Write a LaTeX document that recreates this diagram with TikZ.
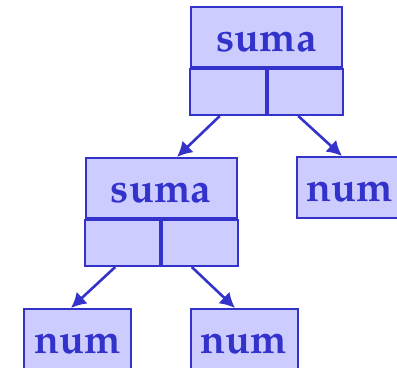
\documentclass[tikz,border=0pt]{standalone}
\usepackage[T1]{fontenc}
\usepackage{mathpazo}
\usepackage{tikz}
\usetikzlibrary{arrows.meta,positioning}
\definecolor{treeblue}{RGB}{51,51,204}
\definecolor{treefill}{RGB}{204,204,255}
\tikzstyle{box} = [rectangle, draw=treeblue, fill=treefill, line width=1pt, text=treeblue, font=\fontsize{20.5}{24}\selectfont\bfseries, inner sep=0pt]
\tikzstyle{head} = [box, minimum width=75.5pt, minimum height=30pt, text height=15pt, text depth=0pt]
\tikzstyle{cell} = [box, minimum width=37.75pt, minimum height=23pt]
\tikzstyle{leaf} = [box, minimum width=53.5pt, minimum height=30.5pt, text height=14.5pt, text depth=0pt]
\tikzstyle{arrow} = [line width=1.3pt, draw=treeblue, -{Latex[length=7.5pt,width=8pt]}]

\begin{document}
\begin{tikzpicture}
\useasboundingbox (0,0) rectangle (198.5pt,-184pt);

% Place the nodes of the tree
\node(top)      [head] at (133.25pt,-18.5pt)  {suma};
\node(top_l)    [cell, anchor=north east] at (top.south) {};
\node(top_r)    [cell, anchor=north west] at (top.south) {};
\node(mid)      [head] at (80.5pt,-94pt)      {suma};
\node(mid_l)    [cell, anchor=north east] at (mid.south) {};
\node(mid_r)    [cell, anchor=north west] at (mid.south) {};
\node(num_r)    [leaf] at (175pt,-93.75pt)    {num};
\node(num_ll)   [leaf] at (38.75pt,-169.75pt) {num};
\node(num_lr)   [leaf] at (122pt,-169.75pt)   {num};

% Connect the nodes with arrows
\draw [arrow] ([xshift=-4pt]top_l.south) -- ([xshift=8pt]mid.north);
\draw [arrow] ([xshift=-3.5pt]top_r.south) -- ([xshift=-4pt]num_r.north);
\draw [arrow] ([xshift=-3.5pt]mid_l.south) -- ([xshift=-3.25pt]num_ll.north);
\draw [arrow] ([xshift=-4pt]mid_r.south) -- ([xshift=-4.5pt]num_lr.north);

\end{tikzpicture}
\end{document}
